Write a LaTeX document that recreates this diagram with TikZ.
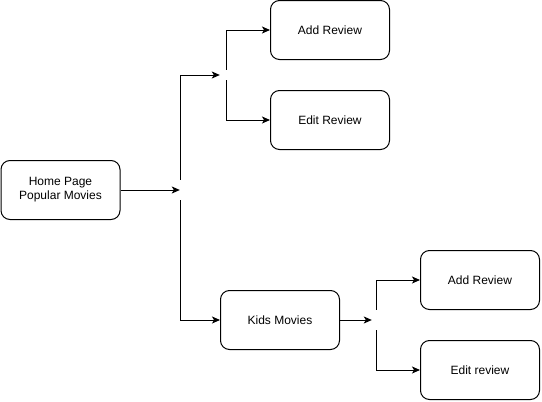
\documentclass[tikz,border=0pt]{standalone}
\usepackage{fontspec}
\setmainfont{Liberation Sans}
\usetikzlibrary{arrows.meta}
\begin{document}
\begin{tikzpicture}[x=1pt,y=-1pt,
  box/.style={draw=black, line width=1pt, rounded corners=9pt, minimum width=119pt, minimum height=59pt, align=center, inner sep=0pt, font=\fontsize{12}{14}\selectfont},
  junc/.style={inner sep=0pt, minimum width=#1, minimum height=20pt},
  arr/.style={line width=1pt, -{Stealth[length=8pt,width=7pt,inset=2pt]}},
  ln/.style={line width=1pt}]
\useasboundingbox (0,0) rectangle (542,402);
\node[box] (home) at (60.5,190) {Home Page\\Popular Movies};
\node[box] (add1) at (330,30) {Add Review};
\node[box] (edit1) at (330,120) {Edit Review};
\node[box] (kids) at (280,320) {Kids Movies};
\node[box] (add2) at (480,280) {Add Review};
\node[box] (edit2) at (480,370) {Edit review};
\node[junc=0pt] (j1) at (180,190) {};
\node[inner sep=0pt, minimum width=12pt, minimum height=10pt] (j2) at (226,75) {};
\node[inner sep=0pt, minimum width=8pt, minimum height=20pt] (j3) at (376,320) {};
\draw[arr] (home.east) -- (j1.west);
\draw[arr] (j1.north) |- (j2.west);
\draw[arr] (j1.south) |- (kids.west);
\draw[arr] (j2.north) |- (add1.west);
\draw[arr] (j2.south) |- (edit1.west);
\draw[arr] (kids.east) -- (j3.west);
\draw[arr] (j3.north) |- (add2.west);
\draw[arr] (j3.south) |- (edit2.west);
\end{tikzpicture}
\end{document}
